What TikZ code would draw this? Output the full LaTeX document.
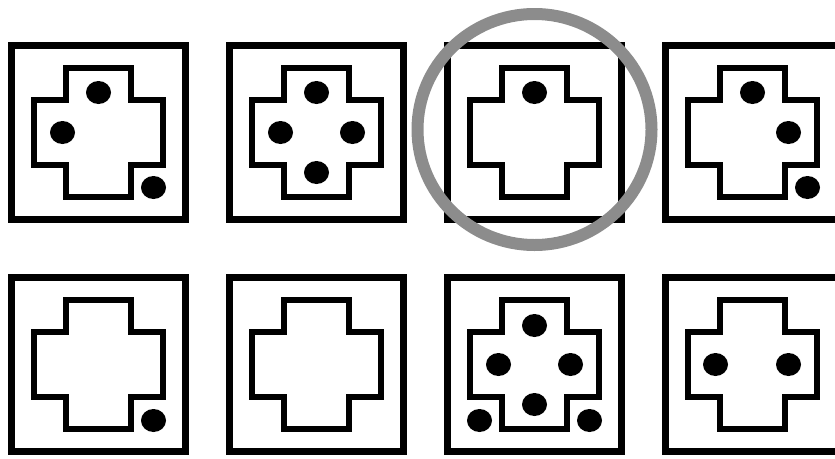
\documentclass[tikz,border=0pt]{standalone}
\usepackage{xcolor}
\usepackage{tikz}
\definecolor{ringgray}{RGB}{140, 140, 140}

\begin{document}
\begin{tikzpicture}[
        x=1pt, y=-1pt,
        frame/.style={draw=black, line width=7pt},
        crossline/.style={draw=black, line width=6pt},
        dot/.style={fill=black, x radius=12.5pt, y radius=11.5pt},
        ring/.style={draw=ringgray, line width=12pt}
    ]
        \useasboundingbox (0,0) rectangle (835,458);

        % Tile centres
        \coordinate (t1) at (98.5,132.5);
        \coordinate (t2) at (316.5,132.5);
        \coordinate (t3) at (534.5,132.5);
        \coordinate (t4) at (752.5,132.5);
        \coordinate (t5) at (98.5,364.5);
        \coordinate (t6) at (316.5,364.5);
        \coordinate (t7) at (534.5,364.5);
        \coordinate (t8) at (752.5,364.5);

        % Frames and crosses
        \foreach \t in {t1,t2,t3,t4,t5,t6,t7,t8} {
            \draw[frame] ([shift={(-87,-87)}]\t) rectangle ([shift={(87,87)}]\t);
            \draw[crossline, shift={(\t)}] (-32.5,-64.5) -- (32.5,-64.5) -- (32.5,-32.5) -- (64.5,-32.5)
                -- (64.5,32.5) -- (32.5,32.5) -- (32.5,64.5) -- (-32.5,64.5) -- (-32.5,32.5)
                -- (-64.5,32.5) -- (-64.5,-32.5) -- (-32.5,-32.5) -- cycle;
        }

        % Dots
        \foreach \x/\y in {0/-40, -36/0, 55/55}
            \fill[dot, shift={(t1)}] (\x,\y) circle;
        \foreach \x/\y in {0/-40, -36/0, 36/0, 0/40}
            \fill[dot, shift={(t2)}] (\x,\y) circle;
        \fill[dot, shift={(t3)}] (0,-40) circle;
        \foreach \x/\y in {0/-40, 36/0, 55/55}
            \fill[dot, shift={(t4)}] (\x,\y) circle;
        \fill[dot, shift={(t5)}] (55,56) circle;
        \foreach \x/\y in {0/-39, -36/0, 36/0, 0/40, -55/56, 55/56}
            \fill[dot, shift={(t7)}] (\x,\y) circle;
        \foreach \x/\y in {-37/0, 36/0}
            \fill[dot, shift={(t8)}] (\x,\y) circle;

        % Marked tile
        \draw[ring] ([shift={(0,-3)}]t3) ellipse [x radius=117pt, y radius=115.5pt];
    \end{tikzpicture}
\end{document}
